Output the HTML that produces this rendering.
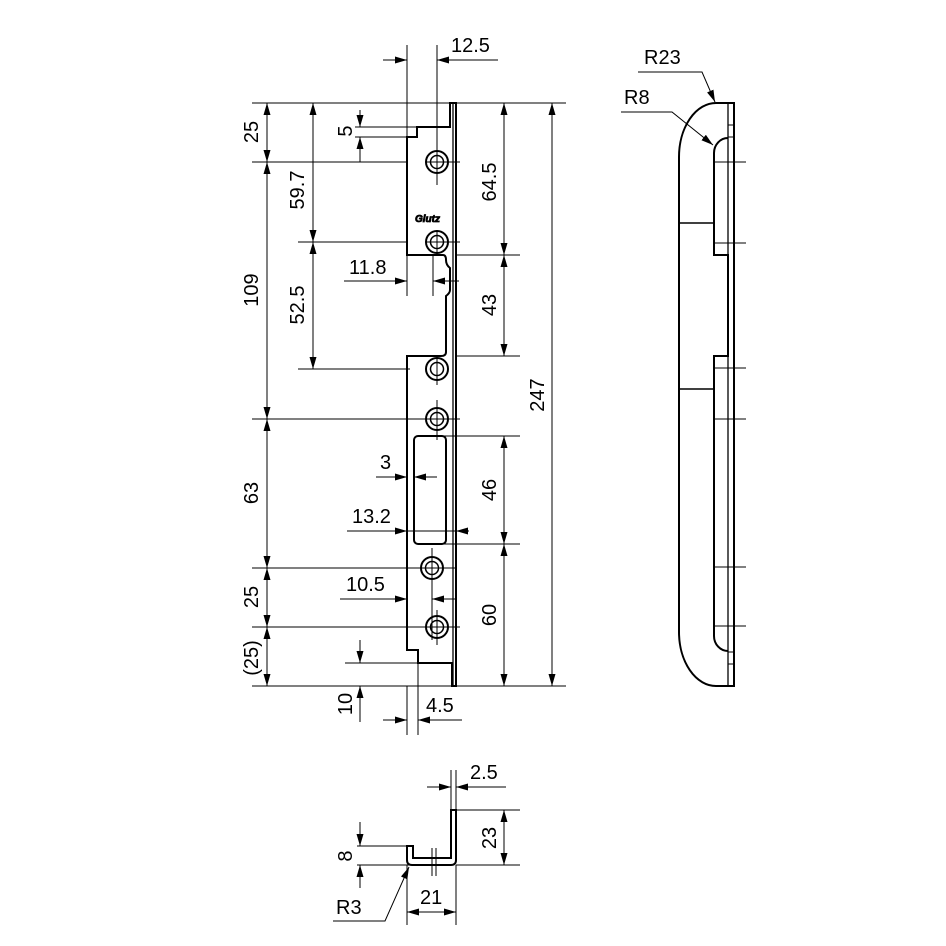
<!DOCTYPE html>
<html><head><meta charset="utf-8"><style>
html,body{margin:0;padding:0;background:#fff}
svg{display:block}
text{font-family:"Liberation Sans",sans-serif;font-size:20px;fill:#000}
</style></head><body>
<svg width="946" height="946" viewBox="0 0 946 946" xmlns="http://www.w3.org/2000/svg">
<defs>
<marker id="a" markerUnits="userSpaceOnUse" markerWidth="12" markerHeight="8" refX="12" refY="3.5" orient="auto-start-reverse"><path d="M0,0 L12,3.5 L0,7 z" fill="#000"/></marker>
</defs>
<g fill="none" stroke="#000" stroke-width="1">
<line x1="252" y1="103" x2="566" y2="103"/>
<line x1="252" y1="686" x2="566" y2="686"/>
<line x1="252" y1="162" x2="407" y2="162"/>
<line x1="252" y1="419" x2="460" y2="419"/>
<line x1="252" y1="568" x2="456" y2="568"/>
<line x1="252" y1="627" x2="460" y2="627"/>
<line x1="298" y1="242" x2="407" y2="242"/>
<line x1="298" y1="369" x2="410" y2="369"/>
<line x1="355" y1="127" x2="417" y2="127"/>
<line x1="355" y1="137" x2="407" y2="137"/>
<line x1="345" y1="663" x2="418" y2="663"/>
<line x1="456" y1="255" x2="520" y2="255"/>
<line x1="456" y1="356" x2="520" y2="356"/>
<line x1="440" y1="436" x2="520" y2="436"/>
<line x1="440" y1="544" x2="520" y2="544"/>
<line x1="407" y1="45" x2="407" y2="137"/>
<line x1="437" y1="45" x2="437" y2="185"/>
<line x1="407" y1="255" x2="407" y2="296"/>
<line x1="433" y1="255" x2="433" y2="296"/>
<line x1="437" y1="230" x2="437" y2="255"/>
<line x1="437" y1="356" x2="437" y2="385"/>
<line x1="437" y1="400" x2="437" y2="440"/>
<line x1="432" y1="548" x2="432" y2="640"/>
<line x1="437" y1="610" x2="437" y2="645"/>
<line x1="407" y1="686" x2="407" y2="735"/>
<line x1="418" y1="663" x2="418" y2="735"/>
<line x1="267" y1="103" x2="267" y2="162" marker-start="url(#a)" marker-end="url(#a)"/>
<line x1="267" y1="162" x2="267" y2="419" marker-start="url(#a)" marker-end="url(#a)"/>
<line x1="267" y1="419" x2="267" y2="568" marker-start="url(#a)" marker-end="url(#a)"/>
<line x1="267" y1="568" x2="267" y2="627" marker-start="url(#a)" marker-end="url(#a)"/>
<line x1="267" y1="627" x2="267" y2="686" marker-start="url(#a)" marker-end="url(#a)"/>
<line x1="313" y1="103" x2="313" y2="242" marker-start="url(#a)" marker-end="url(#a)"/>
<line x1="313" y1="242" x2="313" y2="369" marker-start="url(#a)" marker-end="url(#a)"/>
<line x1="360" y1="110" x2="360" y2="127" marker-end="url(#a)"/>
<line x1="360" y1="162" x2="360" y2="137" marker-end="url(#a)"/>
<line x1="360" y1="640" x2="360" y2="663" marker-end="url(#a)"/>
<line x1="360" y1="722" x2="360" y2="686" marker-end="url(#a)"/>
<line x1="504" y1="103" x2="504" y2="255" marker-start="url(#a)" marker-end="url(#a)"/>
<line x1="504" y1="255" x2="504" y2="356" marker-start="url(#a)" marker-end="url(#a)"/>
<line x1="504" y1="436" x2="504" y2="544" marker-start="url(#a)" marker-end="url(#a)"/>
<line x1="504" y1="544" x2="504" y2="686" marker-start="url(#a)" marker-end="url(#a)"/>
<line x1="552" y1="103" x2="552" y2="686" marker-start="url(#a)" marker-end="url(#a)"/>
<line x1="383" y1="60" x2="407" y2="60" marker-end="url(#a)"/>
<line x1="498" y1="60" x2="437" y2="60" marker-end="url(#a)"/>
<line x1="344" y1="281" x2="407" y2="281" marker-end="url(#a)"/>
<line x1="459" y1="281" x2="433" y2="281" marker-end="url(#a)"/>
<line x1="376" y1="477" x2="407" y2="477" marker-end="url(#a)"/>
<line x1="437" y1="477" x2="414" y2="477" marker-end="url(#a)"/>
<line x1="347" y1="531" x2="407" y2="531" marker-end="url(#a)"/>
<line x1="469" y1="531" x2="456" y2="531" marker-end="url(#a)"/>
<line x1="407" y1="531" x2="456" y2="531"/>
<line x1="340" y1="599" x2="407" y2="599" marker-end="url(#a)"/>
<line x1="456" y1="599" x2="432" y2="599" marker-end="url(#a)"/>
<line x1="383" y1="720" x2="407" y2="720" marker-end="url(#a)"/>
<line x1="462" y1="720" x2="418" y2="720" marker-end="url(#a)"/>
</g>
<g fill="none" stroke="#000" stroke-width="2">
<path d="M456,103 L450,103 L450,127 L417,127 L417,137 L407,137 L407,255 L443,255 Q446,255 446,260 Q446,265 450,268 L450,290 Q450,293 446,296 L446,352 Q446,356 441,356 L407,356 L407,650 L418,650 L418,663 L452,663 L452,686 L456,686 Z"/>
<line x1="453" y1="103" x2="453" y2="686" stroke-width="1.3"/>
<rect x="414" y="436" width="32" height="108" rx="4"/>
</g>
<g fill="none" stroke="#000">
<g stroke-width="2">
<circle cx="437" cy="162" r="11"/><circle cx="437" cy="242" r="11"/><circle cx="437" cy="369" r="11"/>
<circle cx="437" cy="419" r="11"/><circle cx="432" cy="568" r="11"/><circle cx="437" cy="627" r="11"/>
</g>
<g stroke-width="1.5">
<circle cx="437" cy="162" r="6.5"/><circle cx="437" cy="242" r="6.5"/><circle cx="437" cy="369" r="6.5"/>
<circle cx="437" cy="419" r="6.5"/><circle cx="432" cy="568" r="6.5"/><circle cx="437" cy="627" r="6.5"/>
</g>
<g stroke-width="1">
<line x1="425" y1="162" x2="460" y2="162"/><line x1="425" y1="242" x2="460" y2="242"/>
<line x1="420" y1="568" x2="444" y2="568"/>
</g>
</g>
<text x="415" y="222" style="font-size:10px;font-weight:bold;font-style:italic;stroke:#000;stroke-width:0.8">Glutz</text>
<g fill="none" stroke="#000" stroke-width="2">
<path d="M734,103 L716,103 A37,54 0 0 0 679,157 L679,632 A37,54 0 0 0 716,686 L734,686 Z"/>
<path d="M728,138 A14,15 0 0 0 714,153 L714,255 L728,255 L728,356 L714,356 L714,636 A14,15 0 0 0 728,651"/>
<line x1="728" y1="103" x2="728" y2="686" stroke-width="1.3"/>
</g>
<g fill="none" stroke="#000" stroke-width="1">
<line x1="728" y1="125" x2="734" y2="125"/><line x1="728" y1="137" x2="734" y2="137"/>
<line x1="728" y1="652" x2="734" y2="652"/><line x1="728" y1="664" x2="734" y2="664"/>
<line x1="679" y1="223" x2="714" y2="223" stroke-width="1.5"/>
<line x1="679" y1="389" x2="714" y2="389" stroke-width="1.5"/>
<line x1="714" y1="162" x2="746" y2="162"/><line x1="714" y1="243" x2="746" y2="243"/>
<line x1="714" y1="368" x2="746" y2="368"/><line x1="714" y1="419" x2="746" y2="419"/>
<line x1="714" y1="567" x2="746" y2="567"/><line x1="714" y1="626" x2="746" y2="626"/>
<polyline points="638,72 702,72 715,102" marker-end="url(#a)"/>
<polyline points="621,112 672,112 713,145" marker-end="url(#a)"/>
</g>
<text x="644" y="64">R23</text>
<text x="624" y="104">R8</text>
<g fill="none" stroke="#000" stroke-width="2">
<path d="M451,810 L456,810 L456,860 Q456,865 451,865 L412,865 Q407,865 407,860 L407,846 L413,846 L413,858 L451,858 Z"/>
</g>
<g fill="none" stroke="#000" stroke-width="1">
<line x1="432" y1="848" x2="432" y2="876"/><line x1="436" y1="848" x2="436" y2="876"/>
<line x1="451" y1="770" x2="451" y2="810"/><line x1="456" y1="770" x2="456" y2="810"/>
<line x1="427" y1="787" x2="451" y2="787" marker-end="url(#a)"/>
<line x1="506" y1="787" x2="456" y2="787" marker-end="url(#a)"/>
<line x1="456" y1="810" x2="520" y2="810"/><line x1="456" y1="865" x2="520" y2="865"/>
<line x1="504" y1="810" x2="504" y2="865" marker-start="url(#a)" marker-end="url(#a)"/>
<line x1="357" y1="846" x2="407" y2="846"/><line x1="357" y1="865" x2="410" y2="865"/>
<line x1="360" y1="822" x2="360" y2="846" marker-end="url(#a)"/>
<line x1="360" y1="888" x2="360" y2="865" marker-end="url(#a)"/>
<line x1="407" y1="865" x2="407" y2="925"/><line x1="456" y1="865" x2="456" y2="925"/>
<line x1="407" y1="912" x2="456" y2="912" marker-start="url(#a)" marker-end="url(#a)"/>
<polyline points="333,921 385,921 409,867" marker-end="url(#a)"/>
</g>
<text x="470" y="779">2.5</text>
<text x="420" y="904">21</text>
<text x="336" y="914">R3</text>
<text transform="translate(496,838) rotate(-90)" text-anchor="middle">23</text>
<text transform="translate(352,856) rotate(-90)" text-anchor="middle">8</text>
<text x="451" y="52">12.5</text>
<text x="349" y="274">11.8</text>
<text x="380" y="469">3</text>
<text x="352" y="523">13.2</text>
<text x="346" y="591">10.5</text>
<text x="426" y="712">4.5</text>
<text transform="translate(258,132) rotate(-90)" text-anchor="middle">25</text>
<text transform="translate(258,290) rotate(-90)" text-anchor="middle">109</text>
<text transform="translate(258,493) rotate(-90)" text-anchor="middle">63</text>
<text transform="translate(258,597) rotate(-90)" text-anchor="middle">25</text>
<text transform="translate(258,658) rotate(-90)" text-anchor="middle">(25)</text>
<text transform="translate(304,190) rotate(-90)" text-anchor="middle">59.7</text>
<text transform="translate(304,305) rotate(-90)" text-anchor="middle">52.5</text>
<text transform="translate(352,131) rotate(-90)" text-anchor="middle">5</text>
<text transform="translate(352,704) rotate(-90)" text-anchor="middle">10</text>
<text transform="translate(496,182) rotate(-90)" text-anchor="middle">64.5</text>
<text transform="translate(496,305) rotate(-90)" text-anchor="middle">43</text>
<text transform="translate(496,490) rotate(-90)" text-anchor="middle">46</text>
<text transform="translate(496,615) rotate(-90)" text-anchor="middle">60</text>
<text transform="translate(544,395) rotate(-90)" text-anchor="middle">247</text>
</svg>
</body></html>
